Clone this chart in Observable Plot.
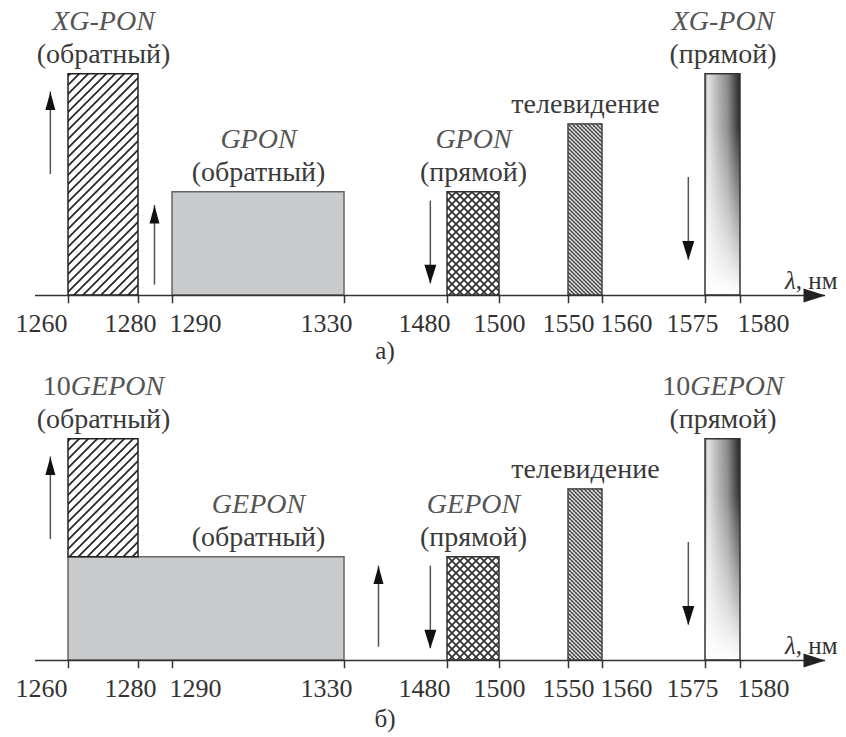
<!DOCTYPE html>
<html><head><meta charset="utf-8">
<script src="https://cdn.jsdelivr.net/npm/d3@7"></script>
<script src="https://cdn.jsdelivr.net/npm/@observablehq/plot@0.6"></script>
<style>
body{margin:0;background:#fff;width:846px;}
.cap{width:846px;box-sizing:border-box;padding-right:76px;text-align:center;font-family:"Liberation Serif","Times New Roman",serif;font-size:25px;color:#333;}
#capA{height:29px;line-height:29px;}
#capB{height:36px;line-height:36px;}
</style></head><body>
<svg width="0" height="0" style="position:absolute">
<defs>
<pattern id="hatch" patternUnits="userSpaceOnUse" width="9" height="9">
<rect width="9" height="9" fill="#fff"/>
<path d="M-2,2 L2,-2 M0,9 L9,0 M7,11 L11,7" stroke="#222" stroke-width="1.6"/>
</pattern>
<pattern id="cross" patternUnits="userSpaceOnUse" width="8" height="8">
<rect width="8" height="8" fill="#fff"/>
<path d="M-1,-1 L9,9 M9,-1 L-1,9" stroke="#333" stroke-width="1.8"/>
</pattern>
<pattern id="tv" patternUnits="userSpaceOnUse" width="4" height="4">
<rect width="4" height="4" fill="#e0e0e0"/>
<path d="M5,-1 L-1,5" stroke="#999" stroke-width="0.8"/>
<path d="M-1,-1 L5,5 M-1,3 L1,5 M3,-1 L5,1" stroke="#333" stroke-width="1.1"/>
</pattern>
<linearGradient id="gradH" x1="0" y1="0" x2="1" y2="0">
<stop offset="0" stop-color="#8a8a8a"/>
<stop offset="0.08" stop-color="#e4e4e4"/>
<stop offset="0.3" stop-color="#bebebe"/>
<stop offset="0.65" stop-color="#8a8a8a"/>
<stop offset="0.9" stop-color="#404040"/>
<stop offset="1" stop-color="#262626"/>
</linearGradient>
<linearGradient id="gradV" x1="0" y1="0" x2="0" y2="1">
<stop offset="0" stop-color="#fff" stop-opacity="0"/>
<stop offset="0.25" stop-color="#fff" stop-opacity="0.05"/>
<stop offset="0.95" stop-color="#fff" stop-opacity="0.95"/>
<stop offset="1" stop-color="#fff" stop-opacity="1"/>
</linearGradient>
</defs>
</svg>
<div id="panelA"></div>
<div class="cap" id="capA">а)</div>
<div id="panelB"></div>
<div class="cap" id="capB">б)</div>
<script>
// ---- data ----
const ticks = [1260, 1280, 1290, 1330, 1480, 1500, 1550, 1560, 1575, 1580];
const axisEnds = [1250, 1595];

const bandsA = [
  {from: 1260, to: 1280, base: 0, level: 7.5, kind: "hatch"},
  {from: 1290, to: 1330, base: 0, level: 3.5, kind: "gray"},
  {from: 1480, to: 1500, base: 0, level: 3.5, kind: "cross"},
  {from: 1550, to: 1560, base: 0, level: 5.8, kind: "tv"},
  {from: 1575, to: 1580, base: 0, level: 7.5, kind: "grad"}
];
const bandsB = [
  {from: 1260, to: 1330, base: 0, level: 3.5, kind: "gray"},
  {from: 1260, to: 1280, base: 3.5, level: 7.5, kind: "hatch"},
  {from: 1480, to: 1500, base: 0, level: 3.5, kind: "cross"},
  {from: 1550, to: 1560, base: 0, level: 5.8, kind: "tv"},
  {from: 1575, to: 1580, base: 0, level: 7.5, kind: "grad"}
];
const arrowsA = [
  {x: 1254.5, from: 4.1, to: 6.9},
  {x: 1284.7, from: 0.35, to: 3.05},
  {x: 1455, from: 3.2, to: 0.4},
  {x: 1572.5, from: 4.0, to: 1.2}
];
const arrowsB = [
  {x: 1254.5, from: 4.1, to: 6.9},
  {x: 1379.5, from: 0.45, to: 3.2},
  {x: 1455, from: 3.2, to: 0.4},
  {x: 1572.5, from: 4.0, to: 1.2}
];
const labelsA = [
  {x: 1270, level: 7.5, name: "XG-PON", dir: "(обратный)"},
  {x: 1310, level: 3.5, name: "GPON", dir: "(обратный)"},
  {x: 1490, level: 3.5, name: "GPON", dir: "(прямой)"},
  {x: 1555, level: 5.8, name: "", dir: "телевидение"},
  {x: 1577.5, level: 7.5, name: "XG-PON", dir: "(прямой)"}
];
const labelsB = [
  {x: 1270, level: 7.5, name: "10GEPON", dir: "(обратный)"},
  {x: 1310, level: 3.5, name: "GEPON", dir: "(обратный)"},
  {x: 1490, level: 3.5, name: "GEPON", dir: "(прямой)"},
  {x: 1555, level: 5.8, name: "", dir: "телевидение"},
  {x: 1577.5, level: 7.5, name: "10GEPON", dir: "(прямой)"}
];
const axisLabel = "λ, нм";

// ---- scale & style config ----
const xBreaks = [axisEnds[0], ...ticks, axisEnds[1]];
const xPixels = [35, 68, 138, 172, 344, 447, 499, 568, 602, 705, 740, 825];
const tickShift = {1260: -27, 1280: -8, 1290: 23, 1330: -18, 1480: -23, 1500: 0, 1550: 0, 1560: 24, 1575: -13, 1580: 23};
const styles = {
  hatch: {fill: "url(#hatch)", stroke: "#222"},
  gray: {fill: "#c9cacc", stroke: "#666"},
  cross: {fill: "url(#cross)", stroke: "#333"},
  tv: {fill: "url(#tv)", stroke: "#444"},
  grad: {fill: "url(#gradH)", stroke: "#333"}
};
const upHead = {draw(c) { c.moveTo(0, 0); c.lineTo(-5, 18); c.lineTo(5, 18); c.closePath(); }};
const downHead = {draw(c) { c.moveTo(0, 0); c.lineTo(-6, -19); c.lineTo(6, -19); c.closePath(); }};
const rightHead = {draw(c) { c.moveTo(0, 0); c.lineTo(-22, -7); c.lineTo(-22, 7); c.closePath(); }};

function panel(bands, arrows, labels) {
  const marks = [];
  for (const kind of ["gray", "hatch", "cross", "tv", "grad"]) {
    const sub = bands.filter(d => d.kind === kind);
    marks.push(Plot.rect(sub, {x1: "from", x2: "to", y1: "base", y2: "level", fill: styles[kind].fill}));
    if (kind === "grad") marks.push(Plot.rect(sub, {x1: "from", x2: "to", y1: "base", y2: "level", fill: "url(#gradV)"}));
    marks.push(Plot.rect(sub, {x1: "from", x2: "to", y1: "base", y2: "level", fill: "none", stroke: styles[kind].stroke, strokeWidth: 1.5}));
  }
  // axis
  marks.push(Plot.ruleY([0], {x1: axisEnds[0], x2: axisEnds[1], stroke: "#333", strokeWidth: 1.5}));
  marks.push(Plot.dot([axisEnds[1]], {x: d => d, y: () => 0, symbol: rightHead, fill: "#222"}));
  marks.push(Plot.ruleX(ticks, {x: d => d, y1: () => 0, y2: () => -0.28, stroke: "#333", strokeWidth: 1.5}));
  for (const t of ticks) {
    marks.push(Plot.text([t], {x: d => d, y: () => 0, text: d => String(d), dx: tickShift[t], dy: 18, lineAnchor: "top", fontSize: 26, fill: "#333"}));
  }
  marks.push(Plot.text([axisEnds[1]], {x: d => d, y: () => 0, text: () => axisLabel, textAnchor: "end", dx: 12, dy: -15, fontSize: 25, fill: "#333"}));
  // arrows
  marks.push(Plot.ruleX(arrows, {x: "x", y1: "from", y2: "to", stroke: "#555", strokeWidth: 1.5}));
  marks.push(Plot.dot(arrows.filter(d => d.to > d.from), {x: "x", y: "to", symbol: upHead, fill: "#111"}));
  marks.push(Plot.dot(arrows.filter(d => d.to < d.from), {x: "x", y: "to", symbol: downHead, fill: "#111"}));
  // labels
  marks.push(Plot.text(labels.filter(d => d.name), {x: "x", y: "level", text: "name", fontStyle: "italic", dy: -53, fontSize: 28, fill: "#555"}));
  marks.push(Plot.text(labels, {x: "x", y: "level", text: "dir", dy: -20, fontSize: 28, fill: "#3a3a3a"}));

  const svg = Plot.plot({
    width: 846, height: 336, margin: 0,
    x: {type: "linear", domain: xBreaks, range: xPixels, axis: null},
    y: {domain: [0, 10], range: [295, 0], axis: null},
    style: {fontFamily: '"Liberation Serif", "Times New Roman", serif', background: "white", overflow: "visible"},
    marks
  });
  d3.select(svg).selectAll("text").each(function() {
    const t = this.textContent;
    const sel = d3.select(this);
    if (/^\d+GEPON$/.test(t)) {
      const m = t.match(/^(\d+)(.*)$/);
      this.textContent = "";
      sel.append("tspan").attr("font-style", "normal").text(m[1]);
      sel.append("tspan").attr("font-style", "italic").text(m[2]);
    } else if (t === axisLabel) {
      this.textContent = "";
      sel.append("tspan").attr("font-style", "italic").text(t.slice(0, 1));
      sel.append("tspan").text(t.slice(1));
    }
  });
  return svg;
}
document.getElementById("panelA").append(panel(bandsA, arrowsA, labelsA));
document.getElementById("panelB").append(panel(bandsB, arrowsB, labelsB));
</script>
</body></html>
